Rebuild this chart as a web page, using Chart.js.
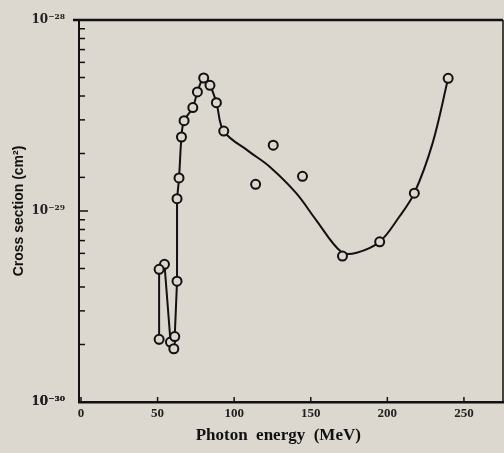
<!DOCTYPE html>
<html>
<head>
<meta charset="utf-8">
<script src="https://cdn.jsdelivr.net/npm/chart.js@4.4.1/dist/chart.umd.min.js"></script>
<style>
  html, body { margin: 0; padding: 0; background: #dcd7cf; overflow: hidden; }
  #wrap { width: 504px; height: 453px; }
</style>
</head>
<body>
<div id="wrap"><canvas id="grafico"></canvas></div>
<script>
// measured points: photon energy (MeV) and cross section (cm^2)
const energia = [51, 54.5, 51, 58.4, 60.6, 61.2, 62.7, 62.7, 64, 65.6, 67.3, 73, 76, 80.1, 84.2, 88.4, 93.2, 114, 125.5, 144.6, 170.7, 195, 217.6, 239.7];
const secao = [2.13e-30, 5.26e-30, 4.95e-30, 2.06e-30, 1.90e-30, 2.20e-30, 4.29e-30, 1.16e-29, 1.49e-29, 2.44e-29, 2.97e-29, 3.48e-29, 4.20e-29, 4.97e-29, 4.55e-29, 3.69e-29, 2.62e-29, 1.38e-29, 2.21e-29, 1.52e-29, 5.81e-30, 6.90e-30, 1.24e-29, 4.95e-29];

// drawn curve, low energy loop
const laçoX = [51, 51, 54.5, 58.6, 61.2, 62.7, 62.7];
const laçoY = [2.0e-30, 4.95e-30, 5.26e-30, 2.0e-30, 2.2e-30, 4.29e-30, 1.16e-29];

// drawn curve, main branch
const curvaX = [62.7, 64, 65.6, 67.3, 73, 76, 80.1, 84.2, 88.4, 93.2, 110, 123, 140.5, 153.5, 170, 180, 195, 207.8, 217.6, 229.5, 239.7];
const curvaY = [1.16e-29, 1.49e-29, 2.44e-29, 2.97e-29, 3.48e-29, 4.20e-29, 4.97e-29, 4.55e-29, 3.69e-29, 2.62e-29, 2.04e-29, 1.71e-29, 1.24e-29, 8.97e-30, 6.1e-30, 6.05e-30, 6.9e-30, 9.33e-30, 1.24e-29, 2.26e-29, 4.95e-29];

const xTicks = [0, 50, 100, 150, 200, 250];
const yLabels = { '-30': '10\u207B\u00B3\u2070', '-29': '10\u207B\u00B2\u2079', '-28': '10\u207B\u00B2\u2078' };

const pares = (xs, ys) => xs.map((x, i) => ({ x: x, y: ys[i] }));
const isDecada = v => Math.abs(Math.log10(v) - Math.round(Math.log10(v))) < 1e-6;

// inward tick marks and top/right frame
const molduraPlugin = {
    id: 'moldura',
    afterDraw(chart) {
        const ctx = chart.ctx;
        const a = chart.chartArea;
        const sx = chart.scales.x, sy = chart.scales.y;
        ctx.save();
        ctx.strokeStyle = '#111';
        ctx.lineWidth = 1.5;
        sy.ticks.forEach(t => {
            const py = sy.getPixelForValue(t.value);
            const len = isDecada(t.value) ? 9 : 6;
            ctx.beginPath(); ctx.moveTo(a.left, py); ctx.lineTo(a.left + len, py); ctx.stroke();
        });
        xTicks.forEach(v => {
            const px = sx.getPixelForValue(v);
            ctx.beginPath(); ctx.moveTo(px, a.bottom); ctx.lineTo(px, a.bottom - 5); ctx.stroke();
        });
        ctx.lineWidth = 2.5;
        ctx.beginPath(); ctx.moveTo(a.left - 6, a.top); ctx.lineTo(a.right, a.top); ctx.stroke();
        ctx.lineWidth = 1.5;
        ctx.beginPath(); ctx.moveTo(a.right, a.top); ctx.lineTo(a.right, a.bottom); ctx.stroke();
        ctx.restore();
    }
};

new Chart(document.getElementById('grafico').getContext('2d'), {
    type: 'line',
    data: {
        datasets: [
            {
                data: pares(energia, secao),
                showLine: false,
                pointRadius: 4.5,
                pointBorderWidth: 2,
                pointBorderColor: '#111',
                pointBackgroundColor: '#dcd7cf',
                order: 0
            },
            {
                data: pares(laçoX, laçoY),
                borderColor: '#111',
                borderWidth: 2,
                pointRadius: 0,
                tension: 0,
                order: 1
            },
            {
                data: pares(curvaX, curvaY),
                borderColor: '#111',
                borderWidth: 2,
                pointRadius: 0,
                tension: 0.35,
                order: 1
            }
        ]
    },
    options: {
        responsive: true,
        maintainAspectRatio: false,
        animation: false,
        layout: { autoPadding: false, padding: { top: 20, right: 1, left: 0, bottom: 0 } },
        plugins: { legend: { display: false }, tooltip: { enabled: false } },
        scales: {
            x: {
                type: 'linear',
                min: -1.3,
                max: 275.5,
                afterBuildTicks: s => { s.ticks = xTicks.map(v => ({ value: v })); },
                grid: { display: false, drawTicks: false },
                border: { display: true, color: '#111', width: 2.5 },
                ticks: {
                    padding: 4,
                    color: '#222',
                    font: { family: 'Liberation Serif', size: 13, weight: 'bold' }
                },
                title: {
                    display: true,
                    text: 'Photon  energy  (MeV)\u00A0\u00A0\u00A0\u00A0\u00A0\u00A0',
                    color: '#111',
                    padding: { top: 0, bottom: 7 },
                    font: { family: 'Liberation Serif', size: 17, weight: 'bold' }
                },
                afterFit: s => { s.height = 51; s.paddingLeft = 0; s.paddingRight = 0; }
            },
            y: {
                type: 'logarithmic',
                min: 1e-30,
                max: 1e-28,
                grid: { display: false, drawTicks: false },
                border: { display: true, color: '#111', width: 2 },
                ticks: {
                    autoSkip: false,
                    padding: 14,
                    color: '#222',
                    font: { family: 'DejaVu Serif', size: 12, weight: 'bold' },
                    callback: v => isDecada(v) ? yLabels[String(Math.round(Math.log10(v)))] : ''
                },
                title: {
                    display: true,
                    text: 'Cross section (cm\u00B2)',
                    color: '#111',
                    padding: { top: 11, bottom: 0 },
                    font: { family: 'Liberation Sans', size: 14, weight: 'bold' }
                },
                afterFit: s => { s.width = 79; s.paddingTop = 0; s.paddingBottom = 0; }
            }
        }
    },
    plugins: [molduraPlugin]
});
</script>
</body>
</html>
